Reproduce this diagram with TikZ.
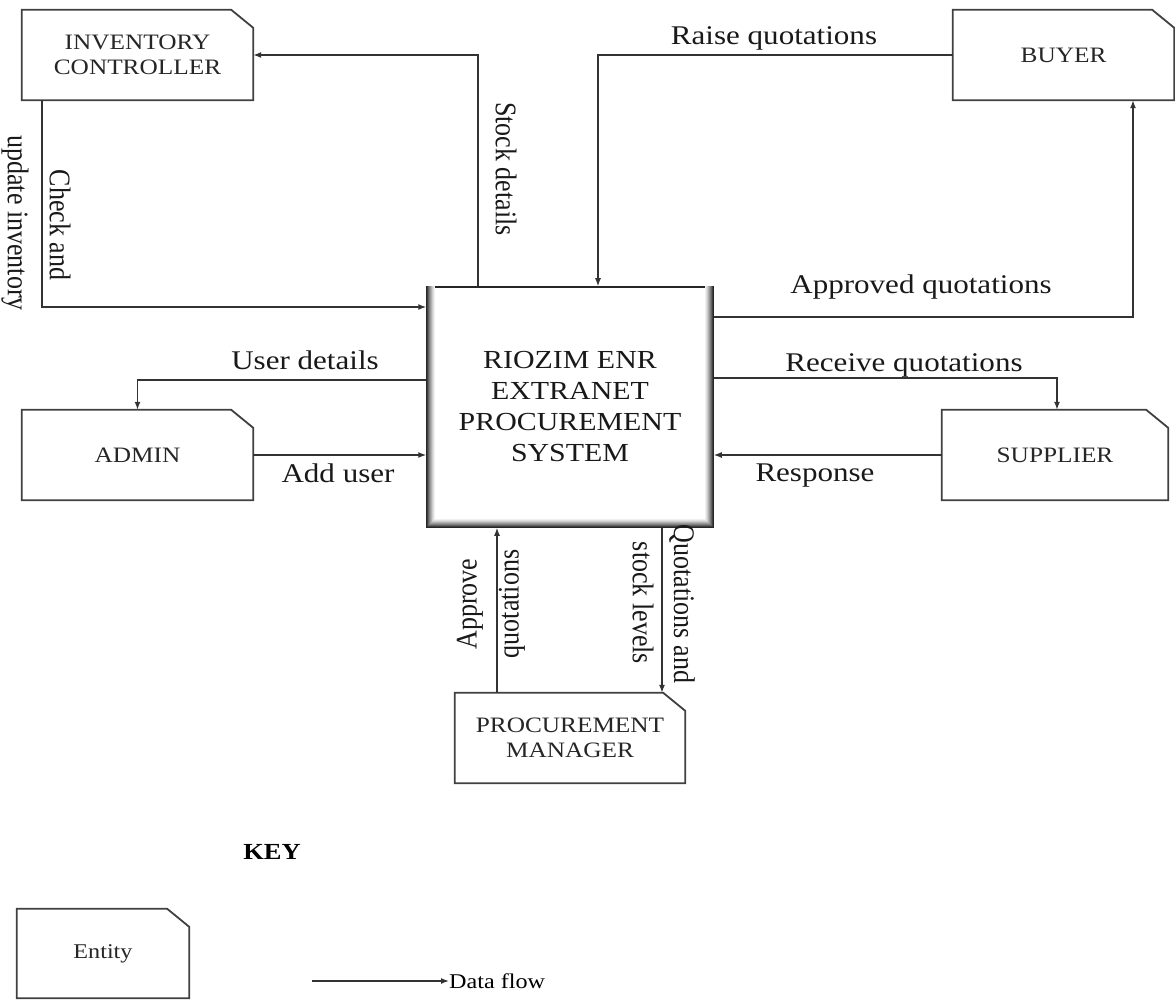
\documentclass[tikz,border=0pt]{standalone}
\usepackage{fontspec}
\setmainfont{Liberation Serif}[FakeStretch=1.15]
\newfontfamily\vfont{Liberation Serif}
\usetikzlibrary{arrows.meta}
\begin{document}
\begin{tikzpicture}[x=1pt,y=-1pt,
  line/.style={draw=black!80, line width=1.4pt},
  flow/.style={line, -{Latex[length=8pt,width=6pt]}},
  entline/.style={draw=black!75, line width=1.8pt},
  entity/.style={rectangle, inner sep=0pt, align=center, text=black!85,
    font=\fontsize{22}{25}\selectfont},
  lab/.style={inner sep=0pt, text=black!90, font=\fontsize{27}{31}\selectfont},
  vlab/.style={inner sep=0pt, text=black!90, font=\vfont\fontsize{26}{30}\selectfont},
  sysbox/.style={draw=black!85, line width=1.5pt, fill=white, align=center,
    text=black!90, minimum width=286pt, minimum height=240pt,
    font=\fontsize{26}{31}\selectfont}
]
\fill[white] (0,0) rectangle (1175,1000);
\useasboundingbox (0,0) rectangle (1175,1000);

% entities
\node[entity, minimum width=231pt, minimum height=90pt] (inv) at (137.5,55) {INVENTORY\\CONTROLLER};
\node[entity, minimum width=231pt, minimum height=90pt] (admin) at (137.5,455) {ADMIN};
\node[entity, minimum width=221pt, minimum height=90pt] (buyer) at (1063.5,55) {BUYER};
\node[entity, minimum width=226pt, minimum height=90pt] (sup) at (1055,455) {SUPPLIER};
\node[entity, minimum width=230pt, minimum height=90pt] (pm) at (570,738) {PROCUREMENT\\MANAGER};
\node[entity, minimum width=172pt, minimum height=89pt, font=\fontsize{21}{24}\selectfont] (keyent) at (103,953.5) {Entity};

\foreach \n in {inv,admin,buyer,sup,pm,keyent}
  \draw[entline] (\n.south west) |- ([xshift=-22pt]\n.north east)
    -- ([yshift=-18pt]\n.north east) -- (\n.south east) -- cycle;

% central process
\node[sysbox] (sys) at (570,407) {RIOZIM ENR\\EXTRANET\\PROCUREMENT\\SYSTEM};
\foreach \i/\c in {1.5/75,2.5/62,3.5/50,4.5/40,5.5/30,6.5/20,7.5/12,8.5/6}
  \draw[black!\c, line width=1.1pt]
    ([xshift=\i pt]sys.north west) -- ([xshift=\i pt, yshift=\i pt]sys.south west)
    -- ([xshift=-\i pt, yshift=\i pt]sys.south east) -- ([xshift=-\i pt]sys.north east);

% helper coordinates
\coordinate (sdx) at (478,0);
\coordinate (ck) at (42,307);
\coordinate (udy) at (0,380);
\coordinate (rqx) at (598,0);
\coordinate (aq) at (1133,317);
\coordinate (rc) at (1057,378);
\coordinate (apx) at (497,0);
\coordinate (qsx) at (662,0);

% flows
\draw[flow] (sys.north -| sdx) |- (inv.east);
\draw[flow] (inv.south -| ck) |- (sys.west |- ck);
\draw[flow] (sys.west |- udy) -| (admin.north);
\draw[flow] (admin.east) -- (sys.west |- admin.east);
\draw[flow] (buyer.west) -| (sys.north -| rqx);
\draw[flow] (sys.east |- aq) -| (buyer.south -| aq);
\draw[flow] (sys.east |- rc) -| (sup.north -| rc);
\draw[flow] (sup.west) -- (sys.east |- sup.west);
\draw[flow] (pm.north -| apx) -- (sys.south -| apx);
\draw[flow] (sys.south -| qsx) -- (pm.north -| qsx);

% labels
\node[vlab, rotate=-90] (l1) at (506,169) {\scalebox{1}[1.15]{Stock details}};
\node[vlab, rotate=-90] (l2a) at (60,225) {\scalebox{1}[1.15]{Check and}};
\node[vlab, rotate=-90] (l2b) at (15,223) {\scalebox{1}[1.15]{update inventory}};
\node[lab] (l3) at (305,360) {User details};
\node[lab] (l4) at (338,473) {Add user};
\node[lab] (l5) at (774,38) {Raise quotations};
\node[lab] (l6) at (921,287) {Approved quotations};
\node[lab] (l7) at (904,365) {Receive quotations};
\node[lab] (l8) at (815,476) {Response};
\node[vlab, rotate=90] (l9a) at (470,604) {\scalebox{1}[1.15]{Approve}};
\node[vlab, rotate=90] (l9b) at (512,604) {\scalebox{1}[1.15]{quotations}};
\node[vlab, rotate=-90] (l10a) at (682,604) {\scalebox{1}[1.15]{Quotations and}};
\node[vlab, rotate=-90] (l10b) at (643,603) {\scalebox{1}[1.15]{stock levels}};

% key
\node[inner sep=0pt, font=\bfseries\fontsize{23}{26}\selectfont] (keyt) at (272,852) {KEY};
\coordinate (df1) at (312,981);
\node[inner sep=0pt, anchor=west, font=\fontsize{21}{24}\selectfont] (dft) at (449,981) {Data flow};
\draw[flow] (df1) -- (dft.west);
\end{tikzpicture}
\end{document}
